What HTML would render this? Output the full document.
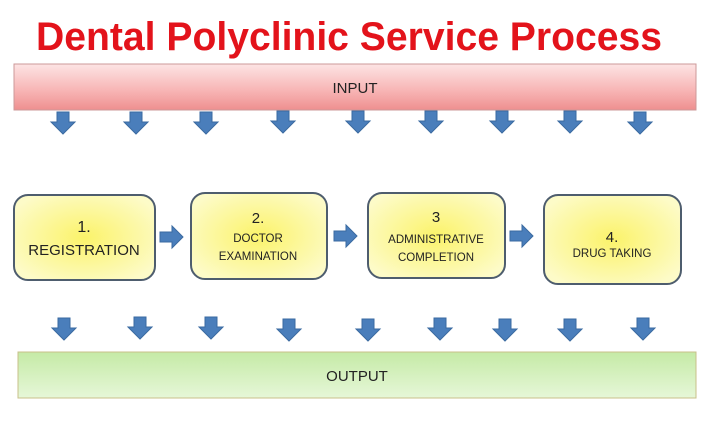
<!DOCTYPE html>
<html><head><style>body{margin:0;background:#fff}svg{display:block}</style></head>
<body>
<svg width="713" height="425" viewBox="0 0 713 425" xmlns="http://www.w3.org/2000/svg" font-family="Liberation Sans, sans-serif">
<defs>
<linearGradient id="pk" x1="0" y1="0" x2="0" y2="1"><stop offset="0" stop-color="#fde4e4"/><stop offset="0.6" stop-color="#f7b3b3"/><stop offset="1" stop-color="#ee8f8f"/></linearGradient>
<linearGradient id="gr" x1="0" y1="0" x2="0" y2="1"><stop offset="0" stop-color="#c5eaa6"/><stop offset="1" stop-color="#e6f7d8"/></linearGradient>
<radialGradient id="yl" cx="0.5" cy="0.5" r="0.6"><stop offset="0" stop-color="#fbf36a"/><stop offset="1" stop-color="#fdfbc8"/></radialGradient>
<g id="da"><path d="M-6,0 H6 V10 H12 L0,22 L-12,10 H-6 Z" fill="#4a7ebb" stroke="#3a6aa0" stroke-width="1"/></g>
<g id="ra"><path d="M0,-5 H12 V-11 L23,0 L12,11 V5 H0 Z" fill="#4a7ebb" stroke="#3a6aa0" stroke-width="1"/></g>
</defs>
<text x="349" y="50" text-anchor="middle" font-size="40" font-weight="bold" fill="#e3131b" textLength="626" lengthAdjust="spacingAndGlyphs">Dental Polyclinic Service Process</text>
<rect x="14" y="64" width="682" height="46" fill="url(#pk)" stroke="#c99" stroke-width="1"/>
<text x="355" y="93" text-anchor="middle" font-size="15" fill="#222">INPUT</text>
<g>
<use href="#da" x="63" y="112"/><use href="#da" x="136" y="112"/><use href="#da" x="206" y="112"/><use href="#da" x="283" y="111"/><use href="#da" x="358" y="111"/><use href="#da" x="431" y="111"/><use href="#da" x="502" y="111"/><use href="#da" x="570" y="111"/><use href="#da" x="640" y="112"/>
</g>
<g stroke="#4e5d6e" stroke-width="2" fill="url(#yl)">
<rect x="14" y="195" width="141" height="85" rx="14"/>
<rect x="191" y="193" width="136" height="86" rx="14"/>
<rect x="368" y="193" width="137" height="85" rx="14"/>
<rect x="544" y="195" width="137" height="89" rx="14"/>
</g>
<g fill="#222" text-anchor="middle">
<text x="84" y="232" font-size="16">1.</text>
<text x="84" y="255" font-size="15">REGISTRATION</text>
<text x="258" y="223" font-size="15">2.</text>
<text x="258" y="242" font-size="11.5">DOCTOR</text>
<text x="258" y="260" font-size="11.5">EXAMINATION</text>
<text x="436" y="222" font-size="15">3</text>
<text x="436" y="243" font-size="11.5">ADMINISTRATIVE</text>
<text x="436" y="261" font-size="11.5">COMPLETION</text>
<text x="612" y="242" font-size="15">4.</text>
<text x="612" y="257" font-size="11.5">DRUG TAKING</text>
</g>
<use href="#ra" x="160" y="237"/><use href="#ra" x="334" y="236"/><use href="#ra" x="510" y="236"/>
<g>
<use href="#da" x="64" y="318"/><use href="#da" x="140" y="317"/><use href="#da" x="211" y="317"/><use href="#da" x="289" y="319"/><use href="#da" x="368" y="319"/><use href="#da" x="440" y="318"/><use href="#da" x="505" y="319"/><use href="#da" x="570" y="319"/><use href="#da" x="643" y="318"/>
</g>
<rect x="18" y="352" width="678" height="46" fill="url(#gr)" stroke="#c8c08a" stroke-width="1"/>
<text x="357" y="381" text-anchor="middle" font-size="15" fill="#222">OUTPUT</text>
</svg>
</body></html>
